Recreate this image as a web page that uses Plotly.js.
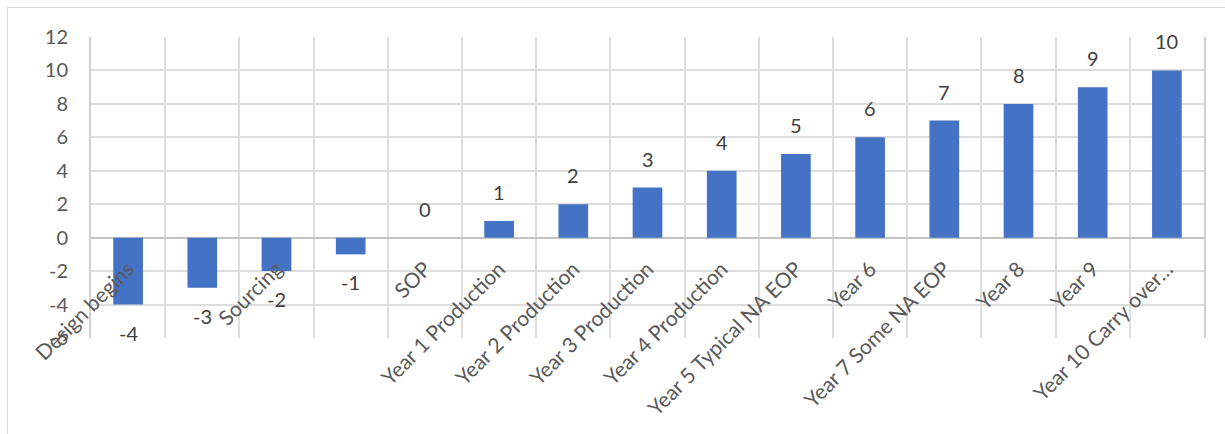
<!DOCTYPE html>
<html>
<head>
<meta charset="utf-8">
<script src="https://cdn.plot.ly/plotly-3.0.1.min.js"></script>
<style>
  html, body { margin: 0; padding: 0; background: #ffffff; }
  #chart { width: 1225px; height: 434px; }
</style>
</head>
<body>
<div id="chart"></div>
<script>
// ---- data ----
const phaseKeys = ["Y-4", "Y-3", "Y-2", "Y-1", "Y0", "Y1", "Y2", "Y3", "Y4", "Y5", "Y6", "Y7", "Y8", "Y9", "Y10"];
const categoryLabels = [
  "Design begins", "", "Sourcing", "", "SOP",
  "Year 1 Production", "Year 2 Production", "Year 3 Production", "Year 4 Production",
  "Year 5 Typical NA EOP", "Year 6", "Year 7 Some NA EOP", "Year 8", "Year 9",
  "Year 10 Carry over\u2026"
];
const values = [-4, -3, -2, -1, 0, 1, 2, 3, 4, 5, 6, 7, 8, 9, 10];
const yTickVals = [-6, -4, -2, 0, 2, 4, 6, 8, 10, 12];
const yTickText = ["-6", "-4", "-2", "0", "2", "4", "6", "8", "10", "12"];

const FONT = "Lato, Carlito, Calibri, 'Open Sans', sans-serif";
const BAR_COLOR = "#4472C4";
const GRID = "#dddddd";

const trace = {
  type: "bar",
  x: phaseKeys,
  y: values,
  marker: { color: BAR_COLOR, line: { width: 0 } },
  width: 0.4,
  hoverinfo: "x+y",
  showlegend: false
};

const labelAnnotations = values.map((v, i) => ({
  x: i,
  y: v,
  xref: "x",
  yref: "y",
  text: String(v),
  showarrow: false,
  xanchor: "center",
  yanchor: v < 0 ? "top" : "bottom",
  yshift: v < 0 ? -14 : 15,
  font: { family: FONT, size: 20, color: "#404040" }
}));

const layout = {
  width: 1225,
  height: 434,
  margin: { l: 91, r: 21, t: 37, b: 96, pad: 0 },
  paper_bgcolor: "#ffffff",
  plot_bgcolor: "#ffffff",
  font: { family: FONT, size: 20, color: "#595959" },
  xaxis: {
    type: "category",
    categoryorder: "array",
    categoryarray: phaseKeys,
    range: [-0.5, phaseKeys.length - 0.5],
    tickmode: "array",
    tickvals: phaseKeys,
    ticktext: categoryLabels,
    tickson: "boundaries",
    ticks: "",
    tickangle: -45,
    showgrid: true,
    gridcolor: GRID,
    gridwidth: 2,
    showline: false,
    zeroline: false,
    anchor: "free",
    position: 6 / 18,
    ticklabelstandoff: 14,
    tickfont: { family: FONT, size: 21, color: "#595959" },
    fixedrange: true
  },
  yaxis: {
    range: [-6, 12],
    tickmode: "array",
    tickvals: yTickVals,
    ticktext: yTickText,
    showgrid: true,
    gridcolor: GRID,
    gridwidth: 2,
    zeroline: true,
    zerolinecolor: "#c4c4c4",
    zerolinewidth: 2,
    showline: true,
    linecolor: "#d0d0d0",
    linewidth: 2,
    mirror: true,
    ticks: "",
    ticklabelstandoff: 17,
    tickfont: { family: FONT, size: 20, color: "#595959" },
    fixedrange: true
  },
  annotations: labelAnnotations,
  shapes: [{
    type: "rect",
    xref: "paper", yref: "paper",
    x0: -0.0752, x1: 1.05, y0: -0.5, y1: 1.098,
    line: { color: "#d9d9d9", width: 1 },
    fillcolor: "rgba(0,0,0,0)",
    layer: "below"
  }]
};

Plotly.newPlot("chart", [trace], layout, { displayModeBar: false, staticPlot: true });
</script>
</body>
</html>
